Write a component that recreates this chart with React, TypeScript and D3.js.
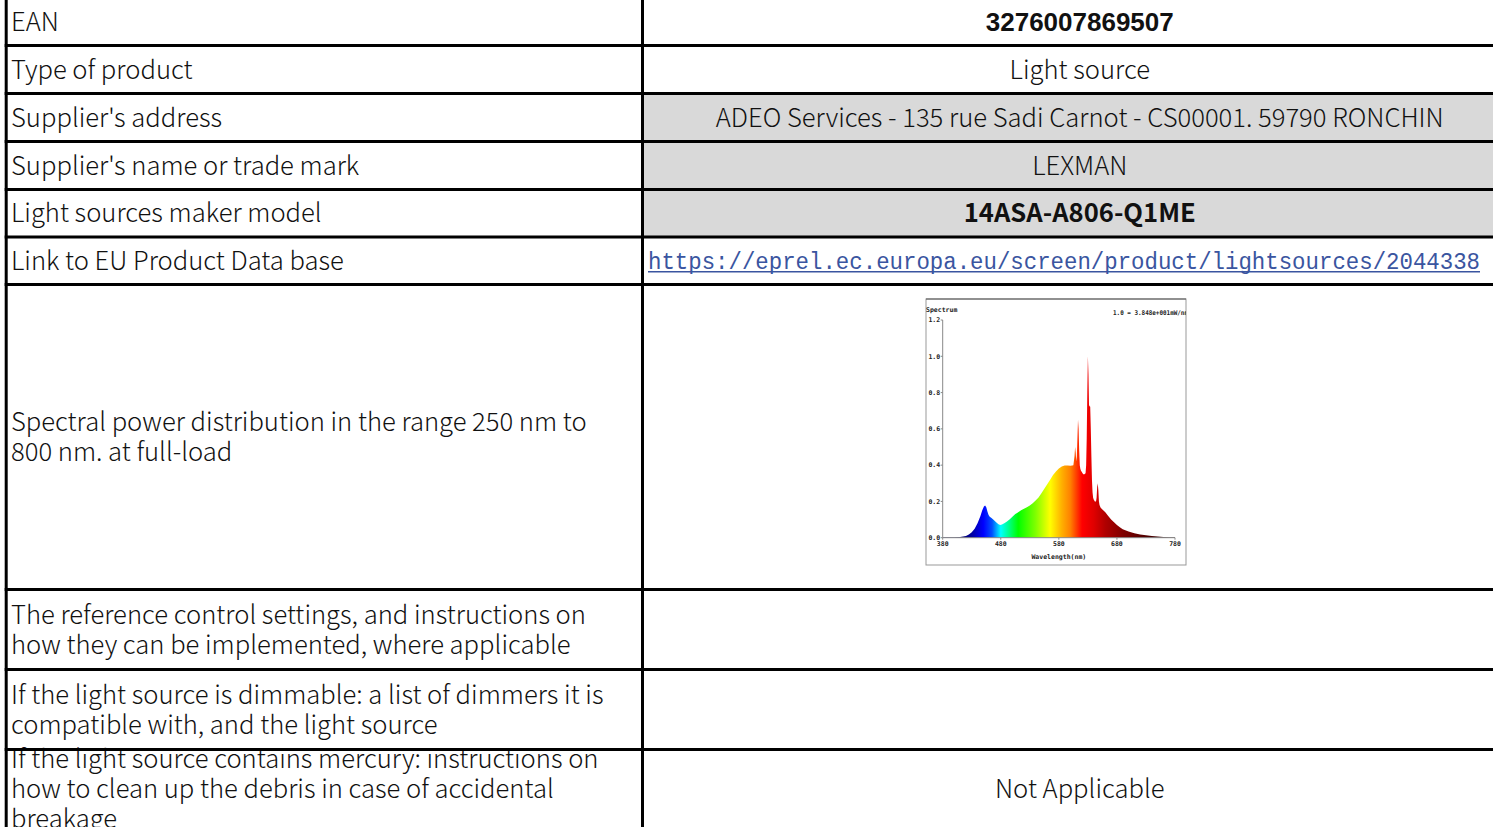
import React from "react";
import * as d3 from "d3";

// ---- table content ----
const rowLabels: string[][] = [
  ["EAN"],
  ["Type of product"],
  ["Supplier's address"],
  ["Supplier's name or trade mark"],
  ["Light sources maker model"],
  ["Link to EU Product Data base"],
  ["Spectral power distribution in the range 250 nm to", "800 nm. at full-load"],
  ["The reference control settings, and instructions on", "how they can be implemented, where applicable"],
  ["If the light source is dimmable: a list of dimmers it is", "compatible with, and the light source"],
  ["If the light source contains mercury: instructions on", "how to clean up the debris in case of accidental", "breakage"],
];
const rowValues: string[] = [
  "3276007869507",
  "Light source",
  "ADEO Services - 135 rue Sadi Carnot - CS00001. 59790 RONCHIN",
  "LEXMAN",
  "14ASA-A806-Q1ME",
  "https://eprel.ec.europa.eu/screen/product/lightsources/2044338",
  "",
  "",
  "",
  "Not Applicable",
];

// ---- spectrum data (relative, 1.0 = 3.848e+001 mW/nm) ----
const wavelengths: number[] = [
  380, 400, 410, 415, 420, 425, 430, 435, 440, 445, 448, 451, 453, 455, 457, 459, 461, 464, 468, 472,
  476, 479, 482, 486, 490, 495, 500, 505, 510, 515, 520, 525, 530, 535, 540, 545, 550, 555, 560, 565,
  570, 575, 580, 585, 590, 595, 600, 603, 605, 607, 608, 609, 610, 611, 612, 613, 614, 615, 616, 617,
  618, 620, 622, 624, 626, 627, 628, 629, 630, 631, 632, 633, 634, 635, 636, 637, 638, 639, 640, 642,
  644, 645, 646, 647, 648, 649, 650, 652, 655, 660, 665, 670, 675, 680, 685, 690, 700, 710, 720, 730,
  740, 750, 760, 770, 780,
];
const intensities: number[] = [
  0.003, 0.003, 0.004, 0.006, 0.01, 0.018, 0.03, 0.05, 0.08, 0.12, 0.15, 0.172, 0.177, 0.168, 0.145, 0.125, 0.115, 0.108, 0.098, 0.085,
  0.074, 0.07, 0.073, 0.08, 0.088, 0.1, 0.115, 0.13, 0.14, 0.152, 0.16, 0.168, 0.178, 0.19, 0.205, 0.222, 0.245, 0.27, 0.295, 0.32,
  0.345, 0.365, 0.382, 0.392, 0.398, 0.398, 0.397, 0.398, 0.4, 0.45, 0.5, 0.47, 0.42, 0.45, 0.55, 0.65, 0.6, 0.48, 0.4, 0.38,
  0.37, 0.36, 0.35, 0.35, 0.355, 0.4, 0.55, 0.8, 1.0, 0.9, 0.72, 0.73, 0.72, 0.6, 0.45, 0.32, 0.25, 0.22, 0.21, 0.2,
  0.2, 0.22, 0.28, 0.3, 0.26, 0.2, 0.18, 0.165, 0.155, 0.14, 0.12, 0.1, 0.085, 0.07, 0.057, 0.047, 0.034, 0.025, 0.018, 0.013,
  0.009, 0.006, 0.004, 0.003, 0.002,
];
const yTicks: number[] = [0, 0.2, 0.4, 0.6, 0.8, 1.0, 1.2];
const xTicks: number[] = [380, 480, 580, 680, 780];
const gradientNm: number[] = [410, 430, 450, 465, 480, 495, 510, 540, 565, 585, 600, 620, 640, 660, 690, 730, 780];
const gradientColors: string[] = [
  "#000060", "#0000a0", "#0000ff", "#0050ff", "#00ffff", "#00ff80", "#00ff00", "#80ff00", "#ffff00",
  "#ffb000", "#ff8000", "#ff0000", "#e00000", "#b00000", "#800000", "#500000", "#200000",
];

// ---- layout ----
const W = 1493;
const H = 827;
const leftX = 6.2;
const midX = 642.5;
const rightEdge = 1517;
const rowLines = [-2.5, 45.5, 93.5, 141.5, 189.5, 237, 284.5, 589.5, 669.5, 749.5, 829];
const greyRows = new Set([2, 3, 4]);
const boldRows = new Set([4]);
const FONT = "'Noto Sans CJK SC', 'Noto Sans', sans-serif";
const FS = 25.6;
const LH = 30;

const Spectrum: React.FC = () => {
  const box = { x0: 926, y0: 299, x1: 1186, y1: 565 };
  const x = d3.scaleLinear().domain([380, 780]).range([942.7, 1175]);
  const y = d3.scaleLinear().domain([0, 1.2]).range([537.7, 320]);
  const data = wavelengths.map((w, i) => ({ w, v: intensities[i] }));
  const area = d3
    .area<{ w: number; v: number }>()
    .x((d) => x(d.w))
    .y0(y(0))
    .y1((d) => y(d.v));
  const x0 = x(380);
  const x1 = x(780);
  const mono = "'DejaVu Sans Mono', monospace";
  return (
    <g>
      <defs>
        <linearGradient id="spec" gradientUnits="userSpaceOnUse" x1={x0} x2={x1} y1={0} y2={0}>
          {gradientNm.map((nm, i) => (
            <stop key={i} offset={(x(nm) - x0) / (x1 - x0)} stopColor={gradientColors[i]} />
          ))}
        </linearGradient>
        <clipPath id="boxclip">
          <rect x={box.x0} y={box.y0} width={box.x1 - box.x0} height={box.y1 - box.y0} />
        </clipPath>
      </defs>
      <rect x={box.x0} y={box.y0} width={box.x1 - box.x0} height={box.y1 - box.y0} fill="#fff" stroke="#999" strokeWidth={1} />
      <line x1={box.x0} x2={box.x1} y1={box.y0} y2={box.y0} stroke="#555" strokeWidth={1} />
      <g clipPath="url(#boxclip)">
        <path d={area(data) || ""} fill="url(#spec)" />
        <line x1={x0} x2={x0} y1={y(1.2)} y2={y(0)} stroke="#888" strokeWidth={1} />
        <line x1={x0} x2={x1} y1={y(0)} y2={y(0)} stroke="#888" strokeWidth={1} />
        {yTicks.map((t) => (
          <g key={t}>
            <line x1={x0 - 2} x2={x0} y1={y(t)} y2={y(t)} stroke="#888" />
            <text x={x0 - 2.5} y={y(t)} dy="0.35em" textAnchor="end" fontFamily={mono} fontWeight="bold" fontSize={6.5} fill="#222">
              {t.toFixed(1)}
            </text>
          </g>
        ))}
        {xTicks.map((t) => (
          <g key={t}>
            <line x1={x(t)} x2={x(t)} y1={y(0)} y2={y(0) + 2} stroke="#888" />
            <text x={x(t)} y={y(0) + 8.5} textAnchor="middle" fontFamily={mono} fontWeight="bold" fontSize={6.5} fill="#222">
              {t}
            </text>
          </g>
        ))}
        <text x={(x0 + x1) / 2} y={559} textAnchor="middle" fontFamily={mono} fontWeight="bold" fontSize={6.5} fill="#222">
          Wavelength(nm)
        </text>
        <text x={926} y={312} fontFamily={mono} fontWeight="bold" fontSize={6.5} fill="#222">
          Spectrum
        </text>
        <text x={1113} y={315} fontFamily={mono} fontWeight="bold" fontSize={6.5} fill="#222" textLength={75} lengthAdjust="spacingAndGlyphs">
          1.0 = 3.848e+001mW/nm
        </text>
      </g>
    </g>
  );
};

export default function App() {
  const rightCenter = (midX + rightEdge) / 2;
  return (
    <svg width={W} height={H} style={{ position: "fixed", left: 0, top: 0, background: "#fff" }}>
      <rect x={0} y={0} width={W} height={H} fill="#fff" />
      {rowLabels.map((lines, i) => {
        const top = rowLines[i];
        const bottom = rowLines[i + 1];
        const cy = (top + bottom) / 2;
        const startY = cy - ((lines.length - 1) * LH) / 2;
        const val = rowValues[i];
        return (
          <g key={i}>
            {greyRows.has(i) && (
              <rect x={midX} y={top} width={W - midX} height={bottom - top} fill="#d9d9d9" />
            )}
            {lines.map((ln, j) => (
              <text key={j} x={11} y={startY + j * LH} dy="0.36em" fontFamily={FONT} fontWeight={300} fontSize={FS} fill="#111">
                {ln}
              </text>
            ))}
            {i === 0 && (
              <text x={rightCenter} y={cy} dy="0.36em" textAnchor="middle" fontFamily="'Liberation Sans', Arial, sans-serif" fontWeight="bold" fontSize={26} fill="#111">
                {val}
              </text>
            )}
            {i === 5 && (
              <g>
                <text x={648} y={cy} dy="0.36em" fontFamily="'Liberation Mono', 'Courier New', monospace" fontSize={23} fill="#3a55a0" textLength={832} lengthAdjust="spacingAndGlyphs">
                  {val}
                </text>
                <line x1={648} x2={1480} y1={cy + 11} y2={cy + 11} stroke="#3a55a0" strokeWidth={1.5} />
              </g>
            )}
            {i !== 0 && i !== 5 && val && (
              <text x={rightCenter} y={cy} dy="0.36em" textAnchor="middle" fontFamily={FONT} fontWeight={boldRows.has(i) ? "bold" : 300} fontSize={FS} fill="#111">
                {val}
              </text>
            )}
          </g>
        );
      })}
      <Spectrum />
      {rowLines.map((ly, i) => (
        <line key={i} x1={leftX - 1.5} x2={W} y1={ly} y2={ly} stroke="#000" strokeWidth={3} />
      ))}
      <line x1={leftX} x2={leftX} y1={0} y2={H} stroke="#000" strokeWidth={3} />
      <line x1={midX} x2={midX} y1={0} y2={H} stroke="#000" strokeWidth={3} />
    </svg>
  );
}
